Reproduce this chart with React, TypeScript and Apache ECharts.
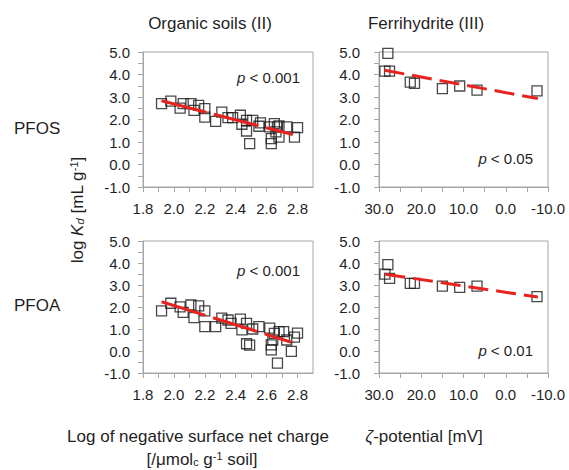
import React, { useEffect, useRef } from 'react';
import * as echarts from 'echarts';

// ---- data ----
const pfosCharge = [1.92, 1.98, 2.04, 2.06, 2.11, 2.13, 2.16, 2.2, 2.2, 2.27, 2.31, 2.35, 2.38, 2.43, 2.44, 2.47, 2.47, 2.49, 2.51, 2.55, 2.56, 2.62, 2.63, 2.63, 2.65, 2.66, 2.67, 2.68, 2.68, 2.73, 2.78, 2.8];
const pfosSoilKd = [2.71, 2.82, 2.51, 2.71, 2.71, 2.41, 2.63, 2.48, 2.11, 1.92, 2.33, 2.08, 2.08, 2.19, 1.79, 1.96, 1.49, 0.93, 1.96, 1.7, 1.85, 1.67, 1.15, 0.93, 1.82, 1.45, 1.67, 1.22, 1.72, 1.67, 1.22, 1.64];
const pfoaCharge = [1.92, 1.98, 2.04, 2.06, 2.11, 2.13, 2.16, 2.2, 2.2, 2.27, 2.31, 2.35, 2.37, 2.43, 2.44, 2.47, 2.47, 2.49, 2.51, 2.55, 2.62, 2.63, 2.63, 2.64, 2.65, 2.67, 2.68, 2.71, 2.73, 2.76, 2.78, 2.8];
const pfoaSoilKd = [1.82, 2.17, 2.01, 1.76, 2.09, 1.52, 2.05, 1.82, 1.11, 1.11, 1.49, 1.41, 1.26, 1.45, 0.96, 1.26, 0.33, 0.27, 1.0, 1.11, 1.04, 0.28, 0.05, 0.5, 0.8, -0.55, 0.88, 0.88, 0.5, -0.02, 0.63, 0.81];

const zeta = [28.6, 27.9, 27.5, 22.6, 21.6, 15.0, 10.9, 6.8, -7.4];
const pfosFeKd = [4.15, 4.94, 4.15, 3.66, 3.61, 3.37, 3.49, 3.31, 3.27];
const pfoaFeKd = [3.49, 3.93, 3.3, 3.07, 3.07, 2.95, 2.89, 2.95, 2.47];

// regression lines (end points)
const pfosSoilFit = [[1.92, 2.83], [2.77, 1.33]];
const pfoaSoilFit = [[1.92, 2.24], [2.76, 0.4]];
const pfosFeFit = [[28.7, 4.19], [-7.6, 2.93]];
const pfoaFeFit = [[28.5, 3.49], [-7.6, 2.45]];

const panelTitles = ['Organic soils (II)', 'Ferrihydrite (III)'];
const rowLabels = ['PFOS', 'PFOA'];
const pValues = ['< 0.001', '< 0.05', '< 0.001', '< 0.01'];

const FONT = '"Liberation Sans", Arial, Helvetica, sans-serif';
const TEXT = '#1f1f1f';
const AXIS = '#a6a6a6';
const RED = '#e8231f';

const zip = (a: number[], b: number[]) => a.map((v, i) => [v, b[i]]);

function yAxis(gridIndex: number, margin: number) {
  return {
    type: 'value',
    gridIndex,
    min: -1,
    max: 5,
    interval: 0.5,
    axisLine: { show: true, onZero: false, lineStyle: { color: AXIS, width: 1 } },
    axisTick: { show: true, length: 5, lineStyle: { color: AXIS } },
    splitLine: { show: false },
    axisLabel: {
      margin,
      color: TEXT,
      fontSize: 15,
      fontFamily: FONT,
      formatter: (v: number) => (Math.abs(v - Math.round(v)) < 1e-6 ? v.toFixed(1) : ''),
    },
  };
}

function soilXAxis(gridIndex: number) {
  return {
    type: 'value',
    gridIndex,
    min: 1.8,
    max: 2.9,
    interval: 0.1,
    axisLine: { show: true, onZero: false, lineStyle: { color: AXIS, width: 1 } },
    axisTick: { show: true, length: 5, lineStyle: { color: AXIS } },
    splitLine: { show: false },
    axisLabel: {
      margin: 14,
      color: TEXT,
      fontSize: 15,
      fontFamily: FONT,
      showMaxLabel: false,
      formatter: (v: number) => (Math.round(v * 10) % 2 === 0 ? v.toFixed(1) : ''),
    },
  };
}

function zetaXAxis(gridIndex: number) {
  return {
    type: 'value',
    gridIndex,
    min: -10,
    max: 30,
    interval: 5,
    inverse: true,
    axisLine: { show: true, onZero: false, lineStyle: { color: AXIS, width: 1 } },
    axisTick: { show: true, length: 5, lineStyle: { color: AXIS } },
    splitLine: { show: false },
    axisLabel: {
      margin: 14,
      color: TEXT,
      fontSize: 15,
      fontFamily: FONT,
      formatter: (v: number) => (Math.round(v) % 10 === 0 ? v.toFixed(1) : ''),
    },
  };
}

function scatter(idx: number, data: number[][]) {
  return {
    type: 'scatter',
    xAxisIndex: idx,
    yAxisIndex: idx,
    data,
    symbol: 'rect',
    symbolSize: 10,
    silent: true,
    itemStyle: { color: 'rgba(0,0,0,0)', borderColor: '#1a1a1a', borderWidth: 1.3 },
    z: 2,
  };
}

function fit(idx: number, data: number[][], dash: number[]) {
  return {
    type: 'line',
    xAxisIndex: idx,
    yAxisIndex: idx,
    data,
    symbol: 'none',
    silent: true,
    lineStyle: { color: RED, width: 3, type: dash },
    z: 3,
  };
}

function txt(x: number, y: number, text: string, rich: any, align = 'center', extra: any = {}) {
  return {
    type: 'text',
    x,
    y,
    silent: true,
    ...extra,
    style: {
      text,
      rich,
      fill: TEXT,
      font: `17px ${FONT}`,
      align,
      verticalAlign: 'middle',
      textAlign: align,
      textVerticalAlign: 'middle',
    },
  };
}

export default function App() {
  const ref = useRef<HTMLDivElement>(null);

  useEffect(() => {
    if (!ref.current) return;
    const chart = echarts.init(ref.current, undefined, { renderer: 'svg' });

    const big = `17px ${FONT}`;
    const bigI = `italic 17px ${FONT}`;
    const small = `11px ${FONT}`;
    const smallI = `italic 11px ${FONT}`;
    const richBig = {
      a: { font: big, fill: TEXT },
      i: { font: bigI, fill: TEXT },
      sub: { font: smallI, fill: TEXT, verticalAlign: 'bottom' },
      subn: { font: small, fill: TEXT, verticalAlign: 'bottom' },
      sup: { font: small, fill: TEXT, verticalAlign: 'top' },
    };
    const richP = {
      a: { font: `15px ${FONT}`, fill: TEXT },
      i: { font: `italic 15px ${FONT}`, fill: TEXT },
    };

    const grids = [
      { left: 143, top: 52, width: 170, height: 135 },
      { left: 379, top: 52, width: 169, height: 135 },
      { left: 143, top: 241, width: 170, height: 132 },
      { left: 379, top: 241, width: 169, height: 132 },
    ].map((g) => ({
      ...g,
      show: true,
      borderColor: AXIS,
      borderWidth: 1,
      backgroundColor: 'transparent',
      containLabel: false,
      outerBoundsMode: 'none',
    }));

    chart.setOption({
      animation: false,
      grid: grids,
      xAxis: [soilXAxis(0), zetaXAxis(1), soilXAxis(2), zetaXAxis(3)],
      yAxis: [yAxis(0, 13), yAxis(1, 19), yAxis(2, 13), yAxis(3, 19)],
      series: [
        scatter(0, zip(pfosCharge, pfosSoilKd)),
        fit(0, pfosSoilFit, [46, 8]),
        scatter(1, zip(zeta, pfosFeKd)),
        fit(1, pfosFeFit, [20, 8]),
        scatter(2, zip(pfoaCharge, pfoaSoilKd)),
        fit(2, pfoaSoilFit, [46, 8]),
        scatter(3, zip(zeta, pfoaFeKd)),
        fit(3, pfoaFeFit, [20, 8]),
      ],
      graphic: [
        txt(210, 23, `{a|${panelTitles[0]}}`, richBig),
        txt(426, 23, `{a|${panelTitles[1]}}`, richBig),
        txt(14, 128, `{a|${rowLabels[0]}}`, richBig, 'left'),
        txt(14, 305, `{a|${rowLabels[1]}}`, richBig, 'left'),
        txt(77, 210, '{a|log }{i|K}{sub|d}{a| [mL g}{sup|-1}{a|]}', richBig, 'center', { rotation: Math.PI / 2 }),
        txt(198, 436, '{a|Log of negative surface net charge}', richBig),
        txt(202, 459, '{a|[/μmol}{subn|c}{a| g}{sup|-1}{a| soil]}', richBig),
        txt(424, 436, '{i|ζ}{a|-potential [mV]}', richBig),
        txt(300, 77, `{i|p}{a| ${pValues[0]}}`, richP, 'right'),
        txt(533, 158, `{i|p}{a| ${pValues[1]}}`, richP, 'right'),
        txt(300, 270, `{i|p}{a| ${pValues[2]}}`, richP, 'right'),
        txt(533, 350, `{i|p}{a| ${pValues[3]}}`, richP, 'right'),
      ],
    });

    return () => chart.dispose();
  }, []);

  return (
    <div
      ref={ref}
      style={{ position: 'fixed', left: 0, top: 0, width: 569, height: 470, background: '#fff' }}
    />
  );
}
